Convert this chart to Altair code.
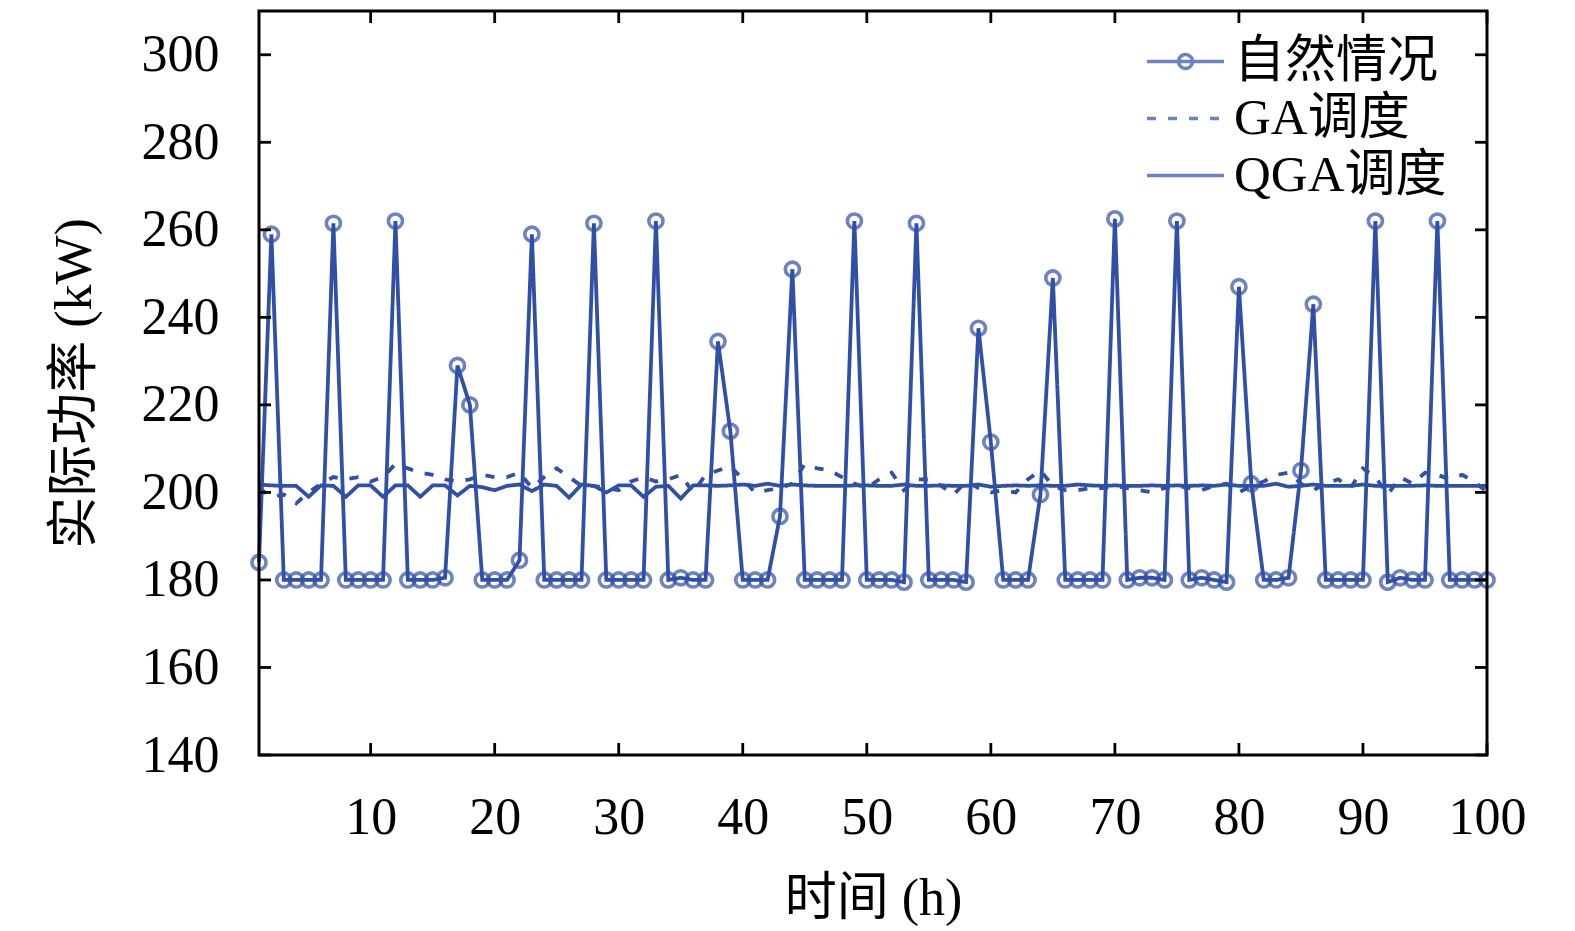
import altair as alt
import pandas as pd

hours = list(range(1, 101))

natural = [184, 259, 180, 180, 180, 180, 261.5, 180, 180, 180,
           180, 262, 180, 180, 180, 180.5, 229, 220, 180, 180,
           180, 184.5, 259, 180, 180, 180, 180, 261.5, 180, 180,
           180, 180, 262, 180, 180.5, 180, 180, 234.5, 214, 180,
           180, 180, 194.5, 251, 180, 180, 180, 180, 262, 180,
           180, 180, 179.5, 261.5, 180, 180, 180, 179.5, 237.5, 211.5,
           180, 180, 180, 199.5, 249, 180, 180, 180, 180, 262.5,
           180, 180.5, 180.5, 180, 262, 180, 180.5, 180, 179.5, 247,
           202, 180, 180, 180.5, 205, 243, 180, 180, 180, 180,
           262, 179.5, 180.5, 180, 180, 262, 180, 180, 180, 180]

ga = [201, 199, 199.5, 197.5, 200, 202, 203.5, 203, 203.5, 202.5,
      203.5, 206.5, 205.5, 204.5, 204, 203, 202.5, 203, 204, 203.5,
      203.5, 204.5, 201, 203.5, 205.5, 203.5, 201.5, 201.5, 201, 200.5,
      202.5, 203.5, 202.5, 203, 204, 200, 204, 205, 206, 203,
      200, 200.5, 201, 202, 206.5, 205.5, 205, 203.5, 202, 201,
      203, 204.5, 200.5, 203, 203, 201.5, 199.5, 202.5, 201, 200,
      200.5, 200, 203, 205, 201.5, 200.5, 200.5, 201, 201, 201.5,
      201, 200.5, 200, 201, 201.5, 201, 200.5, 201.5, 202, 200,
      201.5, 202.5, 204, 204.5, 202, 200.5, 202, 203, 201, 205.5,
      203.5, 199.5, 203.5, 202, 204.5, 204, 203, 204, 202.5, 200]

qga = [201.8, 201.6, 201.5, 201.5, 199, 201.6, 201.5, 199, 201.6, 201.6,
       199, 201.6, 201.6, 199, 201.6, 201.6, 199.3, 201.5, 201.2, 200.5,
       201.5, 201.8, 200.3, 201.8, 201.5, 198.8, 201.8, 201.5, 200, 201.6,
       201.6, 199, 201.3, 201.5, 198.6, 201.6, 201.6, 201.5, 201.6, 201.8,
       201.5, 202, 201.5, 201.8, 201.6, 201.5, 201.5, 201.5, 201.6, 201.6,
       201.5, 201.5, 201.8, 201.5, 201.5, 201.6, 201.5, 201.5, 201.8, 201.3,
       201.5, 201.6, 201.5, 201.6, 201.5, 201.5, 201.8, 201.6, 201.5, 201.6,
       201.5, 201.5, 201.6, 201.5, 201.6, 201.5, 201.6, 201.5, 201.8, 201.5,
       201.5, 201.5, 202, 201.3, 201.5, 201.8, 201.5, 201.5, 201.5, 201.8,
       201.5, 201.5, 201.5, 201.5, 201.6, 201.5, 201.5, 201.5, 201.5, 201.5]

series_names = ["自然情况", "GA调度", "QGA调度"]
x_ticks = [10, 20, 30, 40, 50, 60, 70, 80, 90, 100]
y_ticks = [140, 160, 180, 200, 220, 240, 260, 280, 300]

BLUE = "#3050A8"
FONT = "Liberation Serif, Times New Roman, Noto Sans CJK SC"
W, H = 1228, 744
TL = 12
FS = 52

rows = []
for name, vals in zip(series_names, [natural, ga, qga]):
    for h, v in zip(hours, vals):
        rows.append({"h": h, "p": v, "s": name})
df = pd.DataFrame(rows)
df_nat = df[df["s"] == series_names[0]]

xs = alt.Scale(domain=[1, 100], nice=False, zero=False)
ys = alt.Scale(domain=[140, 310], nice=False, zero=False)

legend = alt.Legend(
    title=None, orient="none", legendX=886, legendY=23,
    labelFont=FONT, labelFontSize=51, labelColor="black",
    symbolSize=5929, symbolStrokeWidth=3.5, symbolStrokeColor=BLUE,
    symbolFillColor="transparent", labelOffset=8, clipHeight=55,
    labelLimit=400,
)

dash_scale = alt.Scale(domain=series_names, range=[[1, 0], [9, 12], [1, 0]])
shape_scale = alt.Scale(
    domain=series_names,
    range=[
        "M-1,0L1,0M-0.18,0A0.18,0.18,0,1,1,0.18,0A0.18,0.18,0,1,1,-0.18,0",
        "M-1,0L1,0",
        "M-1,0L1,0",
    ],
)

xaxis = alt.Axis(values=x_ticks, ticks=False, domain=False, grid=False,
                 labelFont=FONT, labelFontSize=FS, labelColor="black",
                 labelPadding=37, labelFlush=False,
                 title="时间 (h)", titleFont=FONT,
                 titleFontSize=FS, titleFontWeight="normal", titleColor="black",
                 titlePadding=30)
yaxis = alt.Axis(values=y_ticks, ticks=False, domain=False, grid=False,
                 labelFont=FONT, labelFontSize=FS, labelColor="black",
                 labelPadding=40, labelFlush=False,
                 title="实际功率 (kW)", titleFont=FONT,
                 titleFontSize=FS, titleFontWeight="normal", titleColor="black",
                 titlePadding=40)

lines = alt.Chart(df).mark_line(color=BLUE, strokeWidth=3.8).encode(
    x=alt.X("h:Q", scale=xs, axis=xaxis),
    y=alt.Y("p:Q", scale=ys, axis=yaxis),
    detail="s:N",
    strokeDash=alt.StrokeDash("s:N", scale=dash_scale, legend=legend),
)

points = alt.Chart(df_nat).mark_point(
    shape="circle", filled=False, color=BLUE, strokeWidth=3.6, size=200
).encode(x=alt.X("h:Q", scale=xs), y=alt.Y("p:Q", scale=ys))

legend_src = alt.Chart(df_nat).mark_point(
    filled=False, color=BLUE, strokeWidth=3.5, size=0
).encode(
    x=alt.X("h:Q", scale=xs), y=alt.Y("p:Q", scale=ys),
    shape=alt.Shape("s:N", scale=shape_scale, legend=legend),
)

xt = pd.DataFrame({"v": x_ticks})
yt = pd.DataFrame({"v": y_ticks})
tick_style = dict(color="black", strokeWidth=2.8)
yl = alt.Chart(yt).mark_rule(**tick_style).encode(
    y=alt.Y("v:Q", scale=ys), x=alt.value(0), x2=alt.value(TL))
yr = alt.Chart(yt).mark_rule(**tick_style).encode(
    y=alt.Y("v:Q", scale=ys), x=alt.value(W - TL), x2=alt.value(W))
xb = alt.Chart(xt).mark_rule(**tick_style).encode(
    x=alt.X("v:Q", scale=xs), y=alt.value(H - TL), y2=alt.value(H))
xtp = alt.Chart(xt).mark_rule(**tick_style).encode(
    x=alt.X("v:Q", scale=xs), y=alt.value(0), y2=alt.value(TL))

frame_df = pd.DataFrame({"k": [0]})
frame = alt.Chart(frame_df).mark_rect(
    fill=None, stroke="black", strokeWidth=3
).encode(x=alt.value(0), x2=alt.value(W), y=alt.value(0), y2=alt.value(H))

chart = alt.layer(lines, points, legend_src, yl, yr, xb, xtp, frame).properties(
    width=W, height=H,
    autosize=alt.AutoSizeParams(type="none"),
    padding={"left": 251, "top": 3, "right": 56, "bottom": 172},
).configure_view(stroke=None).configure(background="white")

chart.save("out.html", embed_options={"renderer": "svg", "actions": False})
